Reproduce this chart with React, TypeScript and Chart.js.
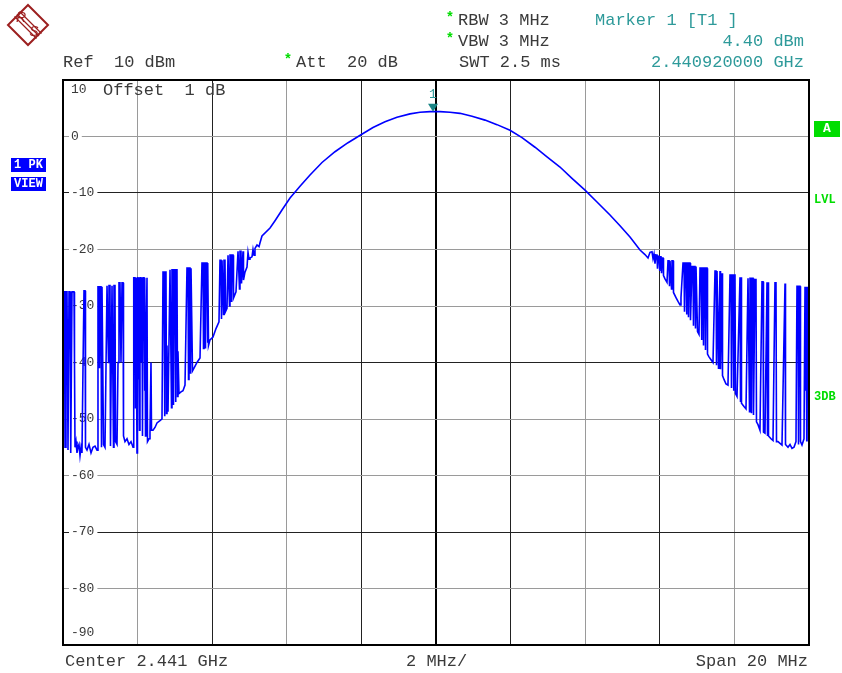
import { useEffect, useRef } from "react";
import { Chart, registerables } from "chart.js";

Chart.register(...registerables);

// Frequency offset from centre (MHz) and level (dBm), left skirt with burst spikes
const leftSkirt: [number, number][] = [
  [-10.000,-41],[-9.987,-27.5],[-9.960,-27.5],[-9.946,-55],[-9.920,-27.5],[-9.893,-27.5],[-9.879,-41],[-9.866,-55.5],
  [-9.839,-27.5],[-9.812,-27.5],[-9.799,-45],[-9.786,-56],[-9.759,-27.5],[-9.732,-27.5],[-9.705,-27.5],[-9.692,-40],
  [-9.678,-55],[-9.651,-54],[-9.625,-56],[-9.598,-55],[-9.571,-54.5],[-9.544,-56.5],[-9.517,-55],[-9.491,-56],
  [-9.464,-41],[-9.437,-27.3],[-9.410,-27.3],[-9.397,-55],[-9.357,-55.5],[-9.303,-54.5],[-9.249,-56],[-9.196,-55],
  [-9.142,-54.8],[-9.088,-55.5],[-9.062,-26.6],[-9.035,-26.6],[-9.021,-41],[-9.008,-26.6],[-8.981,-26.6],[-8.968,-55],
  [-8.954,-26.6],[-8.928,-26.6],[-8.914,-54.5],[-8.874,-55],[-8.820,-26.4],[-8.794,-26.4],[-8.780,-40],[-8.767,-26.4],
  [-8.740,-26.4],[-8.727,-54.8],[-8.686,-26.4],[-8.660,-26.4],[-8.646,-55],[-8.633,-26.4],[-8.606,-26.4],[-8.592,-54],
  [-8.552,-54.5],[-8.525,-40],[-8.499,-25.9],[-8.472,-25.9],[-8.445,-40],[-8.418,-25.9],[-8.391,-25.9],[-8.378,-53],
  [-8.338,-54],[-8.284,-53.5],[-8.231,-54.5],[-8.177,-54],[-8.123,-55],[-8.110,-30],[-8.097,-25],[-8.070,-25],
  [-8.056,-48],[-8.043,-25],[-8.016,-56],[-8.003,-25],[-7.989,-25],[-7.976,-43],[-7.963,-25],[-7.949,-52],
  [-7.936,-25],[-7.909,-25],[-7.895,-40],[-7.882,-25],[-7.869,-53],[-7.855,-25],[-7.828,-25],[-7.815,-45],
  [-7.802,-25],[-7.788,-53],[-7.775,-38],[-7.748,-25],[-7.735,-54],[-7.694,-53.5],[-7.668,-52.5],[-7.641,-40],
  [-7.627,-52],[-7.587,-52],[-7.534,-51.5],[-7.480,-50.7],[-7.400,-50.3],[-7.346,-50],[-7.319,-24],[-7.292,-24],
  [-7.279,-49.5],[-7.266,-24],[-7.239,-24],[-7.225,-49],[-7.212,-37],[-7.185,-48.7],[-7.131,-23.6],[-7.105,-23.6],
  [-7.091,-48],[-7.078,-23.6],[-7.051,-23.6],[-7.038,-47.5],[-7.024,-23.6],[-6.997,-23.6],[-6.984,-47],[-6.971,-23.6],
  [-6.944,-23.6],[-6.930,-46],[-6.917,-38],[-6.890,-45.5],[-6.836,-45.2],[-6.783,-45],[-6.729,-44],[-6.676,-23.3],
  [-6.649,-23.3],[-6.635,-43],[-6.622,-23.3],[-6.595,-23.3],[-6.582,-42],[-6.568,-23.3],[-6.542,-23.3],[-6.528,-41.5],
  [-6.488,-41],[-6.408,-40],[-6.327,-39.2],[-6.274,-22.4],[-6.247,-22.4],[-6.233,-37.5],[-6.220,-22.4],[-6.193,-22.4],
  [-6.180,-37.5],[-6.166,-22.4],[-6.139,-22.4],[-6.126,-36.5],[-6.113,-22.4],[-6.099,-37],[-6.059,-36],[-5.979,-35.5],
  [-5.898,-34],[-5.818,-32.8],[-5.791,-21.9],[-5.764,-21.9],[-5.751,-32.3],[-5.737,-21.9],[-5.711,-21.9],[-5.697,-31.5],
  [-5.684,-21.9],[-5.657,-21.9],[-5.643,-31],[-5.603,-30.4],[-5.576,-21],[-5.550,-21],[-5.536,-30],[-5.523,-21],
  [-5.496,-21],[-5.483,-29.3],[-5.469,-21],[-5.442,-21],[-5.429,-28.6],[-5.362,-27.5],[-5.308,-20.3],[-5.282,-20.3],
  [-5.268,-27],[-5.255,-20.3],[-5.228,-20.3],[-5.214,-26],[-5.174,-20.3],[-5.161,-25.4],[-5.121,-24],[-5.067,-23.1],
  [-5.040,-20.5],[-5.013,-21.7],[-4.987,-21.5],[-4.933,-21.3],[-4.906,-20],[-4.879,-21],[-4.853,-19.8],[-4.799,-19.2],
  [-4.745,-19.5],[-4.718,-18.8],[-4.665,-17.6],
];

// Main lobe of the carrier
const mainLobe: [number, number][] = [
  [-4.450,-16.2],[-4.316,-14.9],[-4.129,-13.0],[-3.914,-10.9],[-3.646,-8.8],[-3.378,-6.8],[-3.056,-4.6],[-2.708,-2.7],
  [-2.359,-1.1],[-2.011,0.3],[-1.689,1.6],[-1.367,2.6],[-1.046,3.4],[-0.697,4.0],[-0.429,4.3],[-0.161,4.4],
  [-0.080,4.4],[0.107,4.4],[0.375,4.3],[0.643,4.1],[0.965,3.6],[1.314,2.9],[1.635,2.1],[1.984,1.1],
  [2.306,-0.2],[2.654,-1.9],[2.976,-3.6],[3.324,-5.4],[3.646,-7.4],[3.995,-9.5],[4.316,-11.6],[4.665,-13.9],
  [4.933,-15.8],[5.201,-17.8],[5.469,-20.1],[5.603,-20.9],
];

// Right skirt with burst spikes
const rightSkirt: [number, number][] = [
  [5.684,-21.5],[5.737,-20.5],[5.791,-20.4],[5.818,-21.6],[5.845,-20.8],[5.871,-22.5],[5.898,-21],[5.925,-21],
  [5.938,-23.4],[5.952,-21.2],[5.979,-21.2],[5.992,-23.8],[6.005,-21.3],[6.032,-21.3],[6.046,-24.2],[6.059,-21.5],
  [6.086,-21.5],[6.099,-24.6],[6.139,-25.2],[6.193,-25.8],[6.220,-22],[6.247,-22],[6.260,-26.5],[6.274,-22],
  [6.300,-22],[6.314,-27],[6.327,-22],[6.354,-22],[6.367,-27.6],[6.434,-28.5],[6.488,-29.2],[6.542,-29.8],
  [6.568,-28.5],[6.622,-22.4],[6.649,-22.4],[6.662,-31],[6.676,-22.4],[6.703,-22.4],[6.716,-31.5],[6.729,-22.4],
  [6.756,-22.4],[6.769,-32],[6.783,-22.4],[6.810,-22.4],[6.823,-32.5],[6.863,-23],[6.890,-23],[6.903,-33.5],
  [6.917,-23],[6.944,-23],[6.957,-34],[6.971,-23],[6.997,-23],[7.011,-34.5],[7.051,-35],[7.078,-23.3],
  [7.105,-23.3],[7.118,-36],[7.131,-23.3],[7.158,-23.3],[7.172,-37],[7.185,-23.3],[7.212,-23.3],[7.225,-37.8],
  [7.239,-23.3],[7.266,-23.3],[7.279,-38.5],[7.319,-39],[7.373,-39.5],[7.426,-40],[7.480,-23.8],[7.507,-23.8],
  [7.520,-40.5],[7.534,-23.8],[7.560,-23.8],[7.574,-41],[7.587,-34],[7.614,-23.8],[7.627,-41.2],[7.668,-24.2],
  [7.681,-42.3],[7.721,-43],[7.775,-43.8],[7.828,-44],[7.882,-24.5],[7.909,-24.5],[7.922,-44.5],[7.936,-24.5],
  [7.963,-24.5],[7.976,-45],[7.989,-24.5],[8.016,-24.5],[8.029,-45.5],[8.070,-46],[8.150,-24.9],[8.164,-47],
  [8.177,-24.9],[8.190,-47.2],[8.257,-47.8],[8.311,-48.2],[8.365,-25.1],[8.391,-25.1],[8.405,-48.7],[8.418,-25.1],
  [8.445,-25.1],[8.458,-49],[8.472,-25.1],[8.499,-25.1],[8.512,-49.3],[8.552,-25.3],[8.579,-25.3],[8.592,-50.5],
  [8.633,-51],[8.686,-52],[8.740,-25.7],[8.767,-25.7],[8.780,-52.3],[8.820,-52.5],[8.874,-25.8],[8.887,-53],
  [8.901,-25.8],[8.914,-53],[8.981,-53.5],[9.035,-53.8],[9.088,-25.9],[9.115,-25.9],[9.129,-54],[9.169,-54],
  [9.223,-54.3],[9.276,-54.6],[9.357,-26],[9.370,-54.5],[9.437,-55],[9.491,-54.5],[9.544,-55.2],[9.598,-55],
  [9.651,-54],[9.678,-26.5],[9.705,-26.5],[9.719,-54.5],[9.732,-26.5],[9.759,-26.5],[9.772,-54],[9.812,-54.6],
  [9.866,-53.5],[9.893,-26.6],[9.906,-45],[9.920,-26.6],[9.933,-54],[9.946,-26.6],[9.960,-42],[9.973,-26.6],
  [9.987,-54],[10.000,-26.6],
];

const yTickLabels = [10, 0, -10, -20, -30, -40, -50, -60, -70, -80, -90];
const darkXGrid = [-6, -2, 2, 6];
const darkYGrid = [-10, -40, -70];
const markerFreq = -0.08;
const markerLevel = 4.4;

const MONO = "'Liberation Mono', 'DejaVu Sans Mono', monospace";
const TXT = "#3a3a3a";
const TEAL = "#2e9a9a";
const GREEN = "#00dd00";

function text(c: CanvasRenderingContext2D, s: string, x: number, y: number, color: string, font: string, align: CanvasTextAlign = "left") {
  c.font = font;
  c.fillStyle = color;
  c.textAlign = align;
  c.textBaseline = "middle";
  c.fillText(s, x, y);
}

const decor = {
  id: "decor",
  beforeDraw(chart: any) {
    const c = chart.ctx as CanvasRenderingContext2D;
    c.save();
    c.fillStyle = "#fff";
    c.fillRect(0, 0, chart.width, chart.height);
    c.restore();
  },
  beforeDatasetsDraw(chart: any) {
    const c = chart.ctx as CanvasRenderingContext2D;
    const a = chart.chartArea;
    const ys = chart.scales.y;
    c.save();
    c.font = `13px ${MONO}`;
    yTickLabels.forEach((v) => {
      let py = ys.getPixelForValue(v);
      if (v === 10) py += 10;
      if (v === -90) py -= 12;
      const s = String(v);
      const w = c.measureText(s).width;
      c.fillStyle = "#fff";
      c.fillRect(a.left + 6, py - 6, w + 5, 12);
      text(c, s, a.left + 8, py, TXT, `13px ${MONO}`);
    });
    text(c, "Offset  1 dB", a.left + 40, ys.getPixelForValue(10) + 10, TXT, `17px ${MONO}`);
    c.restore();
  },
  afterDraw(chart: any) {
    const c = chart.ctx as CanvasRenderingContext2D;
    const a = chart.chartArea;
    const xs = chart.scales.x;
    const ys = chart.scales.y;
    c.save();
    // frame
    c.strokeStyle = "#000";
    c.lineWidth = 2;
    c.strokeRect(a.left, a.top, a.right - a.left, a.bottom - a.top);

    // marker
    const mx = xs.getPixelForValue(markerFreq);
    const my = ys.getPixelForValue(markerLevel);
    c.fillStyle = "#1a8585";
    c.beginPath();
    c.moveTo(mx - 5, my - 8);
    c.lineTo(mx + 5, my - 8);
    c.lineTo(mx, my);
    c.closePath();
    c.fill();
    text(c, "1", mx, my - 17, TEAL, `13px ${MONO}`, "center");

    // header
    const big = `17px ${MONO}`;
    text(c, "Ref  10 dBm", 63, 62, TXT, big);
    text(c, "*", 288, 60, GREEN, `bold 14px ${MONO}`, "center");
    text(c, "Att  20 dB", 296, 62, TXT, big);
    text(c, "*", 450, 18, GREEN, `bold 14px ${MONO}`, "center");
    text(c, "RBW 3 MHz", 458, 20, TXT, big);
    text(c, "*", 450, 39, GREEN, `bold 14px ${MONO}`, "center");
    text(c, "VBW 3 MHz", 458, 41, TXT, big);
    text(c, "SWT 2.5 ms", 459, 62, TXT, big);
    text(c, "Marker 1 [T1 ]", 595, 20, TEAL, big);
    text(c, "4.40 dBm", 804, 41, TEAL, big, "right");
    text(c, "2.440920000 GHz", 804, 62, TEAL, big, "right");

    // footer
    text(c, "Center 2.441 GHz", 65, 661, TXT, big);
    text(c, "2 MHz/", 406, 661, TXT, big);
    text(c, "Span 20 MHz", 808, 661, TXT, big, "right");

    // left trace info boxes
    c.fillStyle = "#0000ff";
    c.fillRect(11, 158, 35, 14);
    c.fillRect(11, 177, 35, 14);
    text(c, "1 PK", 28.5, 165, "#fff", `bold 12px ${MONO}`, "center");
    text(c, "VIEW", 28.5, 184, "#fff", `bold 12px ${MONO}`, "center");

    // right side indicators
    c.fillStyle = GREEN;
    c.fillRect(814, 121, 26, 16);
    text(c, "A", 827, 129, "#fff", `bold 13px ${MONO}`, "center");
    text(c, "LVL", 814, 200, GREEN, `bold 12px ${MONO}`);
    text(c, "3DB", 814, 397, GREEN, `bold 12px ${MONO}`);

    // logo
    const red = "#9c1f1f";
    c.strokeStyle = red;
    c.lineWidth = 2;
    c.beginPath();
    c.moveTo(28, 5);
    c.lineTo(48, 25);
    c.lineTo(28, 45);
    c.lineTo(8, 25);
    c.closePath();
    c.stroke();
    c.lineWidth = 1.2;
    c.beginPath();
    [-2.5, 0, 2.5].forEach((k) => {
      c.moveTo(17 + k, 14 - k);
      c.lineTo(39 + k, 36 - k);
    });
    c.stroke();
    text(c, "R", 21, 18, red, `italic 14px 'Liberation Sans', sans-serif`, "center");
    text(c, "S", 34, 32, red, `italic 14px 'Liberation Sans', sans-serif`, "center");
    c.restore();
  },
};

export default function App() {
  const ref = useRef<HTMLCanvasElement>(null);
  useEffect(() => {
    const points = [...leftSkirt, ...mainLobe, ...rightSkirt].map(([x, y]) => ({ x, y }));
    const chart = new Chart(ref.current!, {
      type: "line",
      data: {
        datasets: [
          {
            data: points,
            borderColor: "#0000ff",
            borderWidth: 1.6,
            pointRadius: 0,
            tension: 0,
            fill: false,
          },
        ],
      },
      options: {
        responsive: false,
        animation: false,
        devicePixelRatio: 1,
        events: [],
        layout: { padding: { left: 63, right: 33, top: 80, bottom: 28 } },
        plugins: { legend: { display: false }, tooltip: { enabled: false } },
        scales: {
          x: {
            type: "linear",
            min: -10,
            max: 10,
            afterFit: (s: any) => {
              s.height = 0;
            },
            ticks: { display: false, stepSize: 2 },
            border: { display: false },
            grid: {
              drawTicks: false,
              color: (ctx: any) => {
                const v = ctx.tick?.value;
                if (v === -10 || v === 10) return "rgba(0,0,0,0)";
                if (v === 0) return "#000";
                return darkXGrid.includes(v) ? "#222" : "#9a9a9a";
              },
              lineWidth: (ctx: any) => (ctx.tick?.value === 0 ? 2 : 1),
            },
          },
          y: {
            type: "linear",
            min: -90,
            max: 10,
            afterFit: (s: any) => {
              s.width = 0;
            },
            ticks: { display: false, stepSize: 10 },
            border: { display: false },
            grid: {
              drawTicks: false,
              color: (ctx: any) => {
                const v = ctx.tick?.value;
                if (v === -90 || v === 10) return "rgba(0,0,0,0)";
                return darkYGrid.includes(v) ? "#222" : "#9a9a9a";
              },
              lineWidth: 1,
            },
          },
        },
      },
      plugins: [decor],
    });
    return () => chart.destroy();
  }, []);
  return (
    <div style={{ position: "absolute", left: 0, top: 0, width: 842, height: 673, background: "#fff" }}>
      <canvas ref={ref} width={842} height={673} style={{ display: "block", width: 842, height: 673 }} />
    </div>
  );
}
